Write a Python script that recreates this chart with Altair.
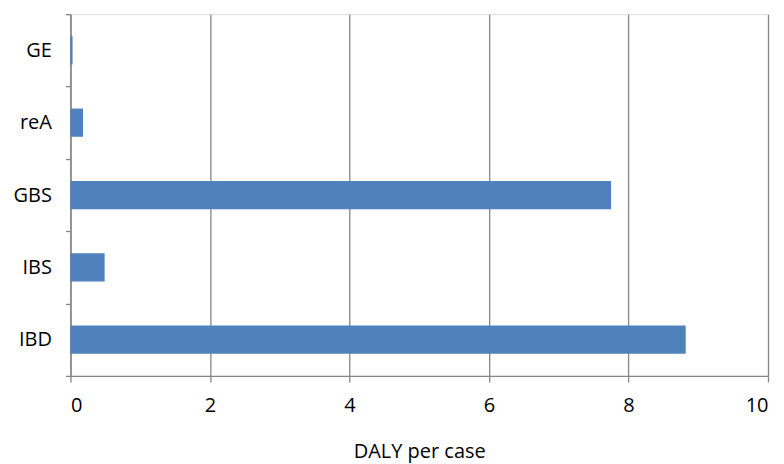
import altair as alt
import pandas as pd

categories = ["GE", "reA", "GBS", "IBS", "IBD"]
values = [0.03, 0.18, 7.75, 0.49, 8.82]

df = pd.DataFrame({"cat": categories, "val": values})

font = "Open Sans"
gray = "#868686"

chart = alt.Chart(df).mark_bar(
    color="#4F81BD", height={"band": 0.39}
).encode(
    x=alt.X("val:Q", title="DALY per case",
            scale=alt.Scale(domain=[0, 10], nice=False, zero=True),
            axis=alt.Axis(values=[0, 2, 4, 6, 8, 10], format="d",
                          grid=True, gridColor=gray, gridWidth=1.3,
                          domainColor=gray, domainWidth=1.3,
                          tickColor=gray, tickWidth=1.3, tickSize=6,
                          labelFont=font, labelFontSize=20, labelColor="#000",
                          labelPadding=14,
                          titleFont=font, titleFontSize=20, titleFontWeight="normal",
                          titleColor="#000", titlePadding=26)),
    y=alt.Y("cat:N", title=None, sort=categories,
            scale=alt.Scale(paddingInner=0, paddingOuter=0),
            axis=alt.Axis(tickBand="extent", grid=False,
                          domainColor=gray, domainWidth=1.3,
                          tickColor=gray, tickWidth=1.3, tickSize=5,
                          labelFont=font, labelFontSize=20, labelColor="#000",
                          labelPadding=14))
).properties(
    width=698, height=362,
    autosize=alt.AutoSizeParams(type="none"),
    padding={"left": 62.5, "top": 6, "right": 8, "bottom": 88}
).configure_view(stroke=None).configure(background="white")

chart.save("out.html", embed_options={"renderer": "svg", "actions": False})
